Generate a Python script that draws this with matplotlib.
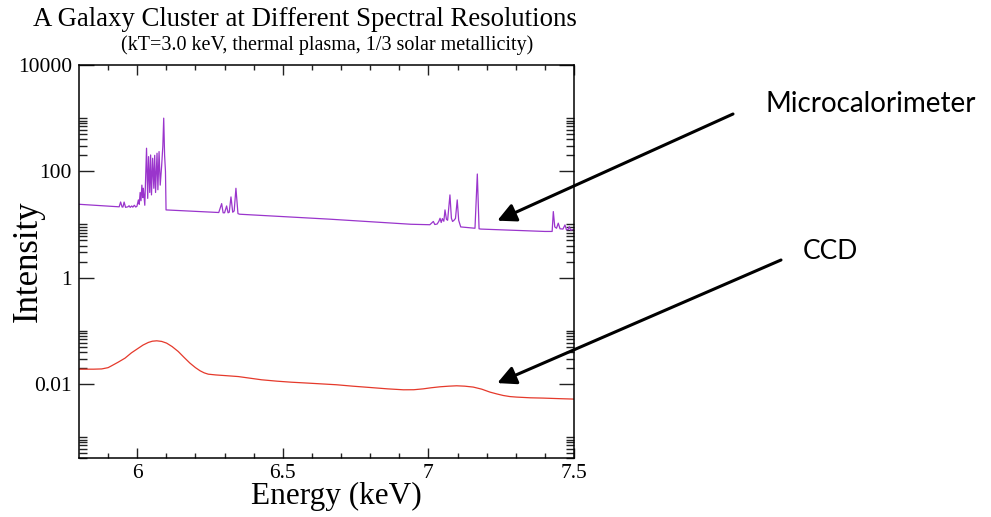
import numpy as np
import matplotlib
matplotlib.use("Agg")
import matplotlib.pyplot as plt
from matplotlib.ticker import FixedLocator, FixedFormatter

# microcalorimeter spectrum, vertices (keV, intensity)
micro_energy = [5.800, 5.938, 5.943, 5.948, 5.951, 5.955, 5.960, 5.968, 5.972, 5.976,
                5.981, 5.985, 5.990, 5.995, 5.999, 6.004, 6.007, 6.010, 6.013, 6.016,
                6.019, 6.021, 6.026, 6.032, 6.036, 6.039, 6.043, 6.046, 6.049, 6.053,
                6.057, 6.060, 6.063, 6.068, 6.071, 6.075, 6.079, 6.084, 6.088, 6.091,
                6.094, 6.097, 6.099, 6.280, 6.290, 6.295, 6.300, 6.307, 6.312, 6.316,
                6.322, 6.328, 6.333, 6.339, 6.346, 6.352, 6.660, 6.940, 7.005, 7.010,
                7.017, 7.022, 7.030, 7.036, 7.040, 7.044, 7.048, 7.053, 7.057, 7.062,
                7.066, 7.074, 7.079, 7.083, 7.088, 7.093, 7.099, 7.104, 7.111, 7.160,
                7.168, 7.174, 7.180, 7.400, 7.425, 7.429, 7.434, 7.440, 7.446, 7.452,
                7.462, 7.469, 7.474, 7.480, 7.484, 7.489, 7.495, 7.500]
micro_intensity = [24.0, 21.5, 26.5, 21.3, 21.3, 26.4, 21.0, 21.5, 22.5, 21.0,
                   22.3, 21.2, 23.0, 21.3, 22.0, 29.0, 24.0, 40.0, 28.0, 55.0,
                   32.0, 48.0, 23.0, 272, 31, 189, 40, 203, 36, 176,
                   48, 200, 40, 219, 45, 235, 55, 130, 300, 1000,
                   200, 100, 18.8, 16.8, 24.7, 16.6, 16.6, 22.3, 16.6, 17.0,
                   33.0, 17.0, 18.0, 48.0, 16.0, 15.6, 12.6, 10.1, 9.9, 10.5,
                   11.4, 10.0, 10.2, 11.5, 13.1, 10.9, 12.9, 11.5, 18.8, 12.5,
                   12.0, 36.0, 13.1, 11.4, 12.0, 13.0, 29.0, 12.0, 9.0, 8.5,
                   89.0, 8.3, 8.2, 7.4, 7.4, 17.5, 9.0, 8.5, 10.6, 8.3,
                   8.2, 9.8, 8.0, 8.0, 9.1, 7.8, 8.0, 7.9]

# CCD spectrum (keV, intensity)
ccd_energy = [5.800, 5.850, 5.878, 5.900, 5.912, 5.935, 5.958, 5.980, 6.004, 6.020,
              6.038, 6.052, 6.067, 6.084, 6.101, 6.120, 6.141, 6.161, 6.181, 6.200,
              6.216, 6.230, 6.244, 6.270, 6.301, 6.347, 6.390, 6.427, 6.480, 6.530,
              6.585, 6.639, 6.685, 6.740, 6.799, 6.860, 6.914, 6.950, 6.982, 7.010,
              7.040, 7.070, 7.097, 7.125, 7.154, 7.183, 7.211, 7.235, 7.257, 7.280,
              7.303, 7.350, 7.394, 7.450, 7.500]
ccd_intensity = [0.0190, 0.0190, 0.0192, 0.0203, 0.0220, 0.0258, 0.0306, 0.0385, 0.0472, 0.0540,
                 0.0604, 0.0638, 0.0649, 0.0632, 0.0587, 0.0505, 0.0408, 0.0316, 0.0247, 0.0203,
                 0.0177, 0.0162, 0.0153, 0.0148, 0.0144, 0.0138, 0.0128, 0.0120, 0.0113, 0.0108,
                 0.0104, 0.0100, 0.00967, 0.0091, 0.0086, 0.0081, 0.00778, 0.0078, 0.0081, 0.0085,
                 0.00886, 0.0091, 0.00925, 0.0091, 0.00875, 0.0080, 0.00705, 0.0065, 0.00608, 0.0058,
                 0.00567, 0.0055, 0.00543, 0.0053, 0.0052]

x_major = [6, 6.5, 7, 7.5]
x_major_labels = ["6", "6.5", "7", "7.5"]
y_major = [0.01, 1, 100, 10000]
y_major_labels = ["0.01", "1", "100", "10000"]

serif = ["Liberation Serif", "DejaVu Serif"]
sans = ["Lato", "Open Sans", "DejaVu Sans"]

fig = plt.figure(figsize=(9.91, 5.17), dpi=100)
ax = fig.add_axes([0.0797, 0.1135, 0.4995, 0.7608])

ax.plot(micro_energy, micro_intensity, color="#9a35cc", lw=0.9)
ax.plot(ccd_energy, ccd_intensity, color="#e5392b", lw=0.9)

ax.set_yscale("log")
ax.set_xlim(5.8, 7.5)
ax.set_ylim(4e-4, 1e4)

ax.xaxis.set_major_locator(FixedLocator(x_major))
ax.xaxis.set_major_formatter(FixedFormatter(x_major_labels))
ax.xaxis.set_minor_locator(FixedLocator(np.round(np.arange(5.9, 7.5, 0.1), 2)))
ax.yaxis.set_major_locator(FixedLocator(y_major))
ax.yaxis.set_major_formatter(FixedFormatter(y_major_labels))
ax.yaxis.set_minor_locator(FixedLocator([m * k for m in [1e-4, 1e-2, 1, 1e2] for k in range(2, 11)]))
ax.yaxis.set_minor_formatter(FixedFormatter([]))

ax.tick_params(axis="both", which="both", direction="in", top=True, right=True,
               color="#222222", width=1.0)
ax.tick_params(axis="x", which="major", length=7.5, pad=4)
ax.tick_params(axis="x", which="minor", length=3.8)
ax.tick_params(axis="y", which="major", length=10.5, pad=5)
ax.tick_params(axis="y", which="minor", length=5.5)
for lab in ax.get_xticklabels() + ax.get_yticklabels():
    lab.set_family(serif)
    lab.set_fontsize(15.5)
for s in ax.spines.values():
    s.set_linewidth(1.1)

ax.set_xlabel("Energy (keV)", family=serif, fontsize=22.5, va="center")
ax.xaxis.set_label_coords(0.52, -0.097)
ax.set_ylabel("Intensity", family=serif, fontsize=25, va="center")
ax.yaxis.set_label_coords(-0.103, 0.5)

fig.text(0.0333, 0.963, "A Galaxy Cluster at Different Spectral Resolutions",
         family=serif, fontsize=19.3, va="center", ha="left")
fig.text(0.330, 0.913, "(kT=3.0 keV, thermal plasma, 1/3 solar metallicity)",
         family=serif, fontsize=14.5, va="center", ha="center")

arrow = dict(arrowstyle="-|>", color="black", lw=2.2, mutation_scale=28,
             shrinkA=0, shrinkB=0)
ax.annotate("", xy=(7.2365, 11.8), xycoords="data",
            xytext=(733 / 991, 1 - 114 / 517), textcoords="figure fraction",
            arrowprops=arrow, annotation_clip=False)
ax.annotate("", xy=(7.2365, 0.0104), xycoords="data",
            xytext=(781 / 991, 1 - 260 / 517), textcoords="figure fraction",
            arrowprops=arrow, annotation_clip=False)

fig.text(765 / 991, 1 - 104 / 517, "Microcalorimeter", family=sans, fontsize=20,
         ha="left", va="center")
fig.text(803 / 991, 1 - 251 / 517, "CCD", family=sans, fontsize=19,
         ha="left", va="center")

fig.savefig("out.png", dpi=100)
